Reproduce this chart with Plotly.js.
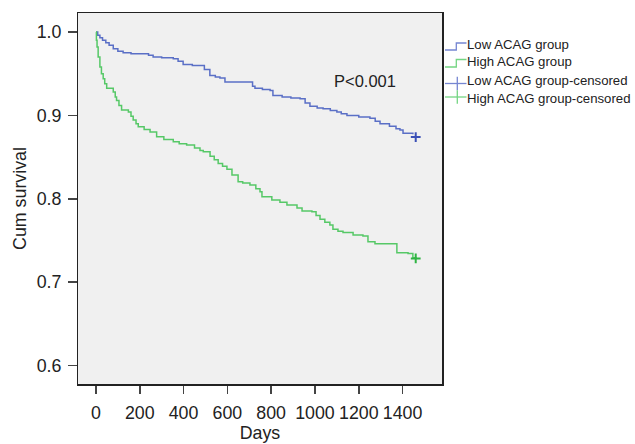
<!DOCTYPE html>
<html>
<head>
<meta charset="utf-8">
<script src="https://cdn.plot.ly/plotly-3.0.1.min.js"></script>
<style>html,body{margin:0;padding:0;background:#fff;}#chart{width:635px;height:444px;}</style>
</head>
<body>
<div id="chart"></div>
<script>
const lowDays = [0,8,18,30,45,60,79,100,124,160,215,240,261,300,353,375,398,440,475,495,520,545,566,589,703,715,726,760,795,808,850,890,932,955,977,1010,1037,1070,1100,1120,1146,1200,1251,1275,1297,1340,1370,1388,1402,1447];
const lowSurv = [1.000,0.996,0.993,0.990,0.987,0.984,0.980,0.977,0.975,0.974,0.974,0.972,0.970,0.969,0.968,0.965,0.961,0.960,0.960,0.955,0.948,0.946,0.945,0.940,0.940,0.935,0.9325,0.931,0.930,0.924,0.922,0.921,0.920,0.915,0.911,0.909,0.908,0.906,0.904,0.902,0.900,0.898,0.8965,0.893,0.890,0.887,0.884,0.8825,0.8785,0.8775];
const highDays = [0,2,5,10,18,25,33,40,49,79,88,94,105,117,148,160,170,183,193,220,247,277,310,353,380,414,450,475,490,521,540,558,578,598,621,649,670,703,730,749,758,803,840,872,918,941,986,1005,1023,1045,1068,1082,1105,1128,1174,1219,1242,1274,1352,1374,1425,1447,1460];
const highSurv = [1.000,0.990,0.982,0.970,0.958,0.950,0.944,0.938,0.9325,0.928,0.922,0.918,0.912,0.9065,0.904,0.899,0.8945,0.890,0.8865,0.883,0.880,0.8745,0.871,0.8685,0.866,0.8645,0.861,0.858,0.8565,0.851,0.847,0.8425,0.839,0.8355,0.8285,0.8205,0.819,0.8165,0.812,0.8085,0.8025,0.7985,0.796,0.7925,0.789,0.7855,0.7845,0.780,0.7755,0.772,0.7685,0.7635,0.761,0.7595,0.7565,0.7555,0.7485,0.746,0.746,0.7355,0.7345,0.7295,0.7285];
const lowCensorDays = [1460];
const lowCensorSurv = [0.874];
const highCensorDays = [1460];
const highCensorSurv = [0.7285];
const seriesNames = ["Low ACAG group","High ACAG group","Low ACAG group-censored","High ACAG group-censored"];
const xTicks = [0,200,400,600,800,1000,1200,1400];
const yTicks = [0.6,0.7,0.8,0.9,1.0];
const yTickText = ["0.6","0.7","0.8","0.9","1.0"];

const blue = "#5a6fc6", green = "#56c867";
const blueCensor = "#3a4fb6", greenCensor = "#2fb443";
const blueLeg = "#7686d2", greenLeg = "#74d583";
const traces = [
  {x: lowDays, y: lowSurv, name: seriesNames[0], type: "scatter", mode: "lines", line: {shape: "hv", color: blue, width: 1.5}},
  {x: highDays, y: highSurv, name: seriesNames[1], type: "scatter", mode: "lines", line: {shape: "hv", color: green, width: 1.5}},
  {x: lowCensorDays, y: lowCensorSurv, name: seriesNames[2], type: "scatter", mode: "markers", marker: {symbol: "cross-thin", size: 7, line: {color: blueCensor, width: 2}}},
  {x: highCensorDays, y: highCensorSurv, name: seriesNames[3], type: "scatter", mode: "markers", marker: {symbol: "cross-thin", size: 7, line: {color: greenCensor, width: 2}}}
];

// plot area in pixels: left 78, right 442, top 13, bottom 384
const PL = 78, PR = 442, PT = 13, PB = 384;
const px = v => (v - PL) / (PR - PL);
const py = v => (PB - v) / (PB - PT);

const legendFont = {family: "Liberation Sans, Arial, sans-serif", size: 13.2, color: "#222"};
const legendRows = [
  {name: seriesNames[0], kind: "step", color: blueLeg, lowY: 50, highY: 43, textY: 44},
  {name: seriesNames[1], kind: "step", color: greenLeg, lowY: 67, highY: 59.5, textY: 62},
  {name: seriesNames[2], kind: "cross", color: blueLeg, midY: 83.5, textY: 80},
  {name: seriesNames[3], kind: "cross", color: greenLeg, midY: 97, textY: 98}
];
const shapes = [];
const annotations = [];
legendRows.forEach(r => {
  if (r.kind === "step") {
    shapes.push({type: "path", xref: "paper", yref: "paper",
      path: `M ${px(445)} ${py(r.lowY)} L ${px(456.3)} ${py(r.lowY)} L ${px(456.3)} ${py(r.highY)} L ${px(466.5)} ${py(r.highY)}`,
      line: {color: r.color, width: 1.3}});
  } else {
    shapes.push({type: "line", xref: "paper", yref: "paper", x0: px(445), x1: px(466.5), y0: py(r.midY), y1: py(r.midY), line: {color: r.color, width: 1.3}});
    shapes.push({type: "line", xref: "paper", yref: "paper", x0: px(457.3), x1: px(457.3), y0: py(r.midY - 6.7), y1: py(r.midY + 6.7), line: {color: r.color, width: 1.3}});
  }
  annotations.push({xref: "paper", yref: "paper", x: px(466), y: py(r.textY), xanchor: "left", yanchor: "middle", text: r.name, showarrow: false, font: legendFont, borderpad: 0});
});
annotations.push({x: 1228, y: 0.941, xref: "x", yref: "y", text: "P<0.001", showarrow: false, font: {family: "Liberation Sans, Arial, sans-serif", size: 16.5, color: "#222"}});

const axisFont = {family: "Liberation Sans, Arial, sans-serif", size: 17.8, color: "#222"};
const layout = {
  width: 635, height: 444,
  margin: {l: PL, r: 635 - PR, t: PT, b: 444 - PB},
  paper_bgcolor: "#fff", plot_bgcolor: "#f0f0f0",
  font: axisFont,
  showlegend: false,
  xaxis: {range: [-82, 1580], tickvals: xTicks, ticktext: xTicks.map(String), ticks: "outside", ticklen: 8.5, tickcolor: "#444", tickwidth: 1.5, ticklabelstandoff: 4, showgrid: false, zeroline: false, showline: true, linecolor: "#222", linewidth: 1.5, mirror: true, tickfont: axisFont, title: {text: "Days", font: axisFont, standoff: 1}},
  yaxis: {range: [0.578, 1.0228], tickvals: yTicks, ticktext: yTickText, ticks: "outside", ticklen: 8.5, tickcolor: "#444", tickwidth: 1.5, ticklabelstandoff: 3, showgrid: false, zeroline: false, showline: true, linecolor: "#222", linewidth: 1.5, mirror: true, tickfont: axisFont, title: {text: "Cum survival", font: axisFont, standoff: 5}},
  shapes: shapes,
  annotations: annotations
};
Plotly.newPlot("chart", traces, layout, {displayModeBar: false, staticPlot: true});
</script>
</body>
</html>
